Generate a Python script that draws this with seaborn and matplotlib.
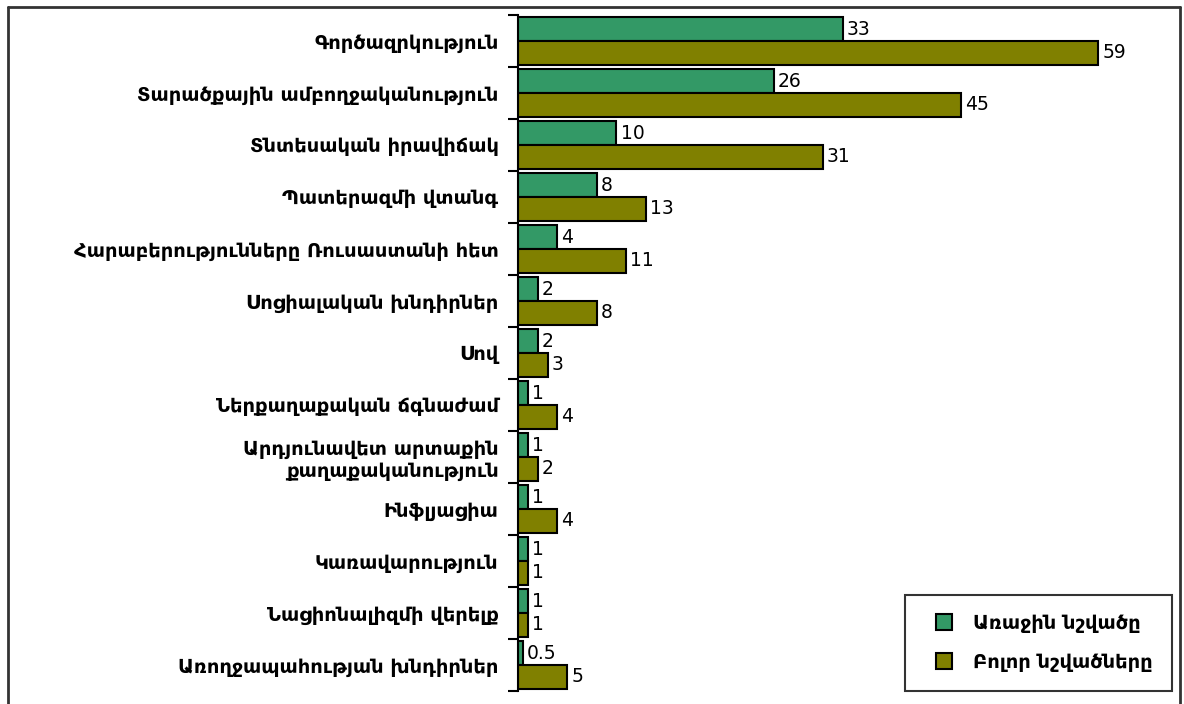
import matplotlib

matplotlib.use("Agg")
import matplotlib.pyplot as plt
import pandas as pd
import seaborn as sns
from matplotlib.lines import Line2D
from matplotlib.ticker import FixedLocator

# --- data ---
categories = [
    "Գործազրկություն",
    "Տարածքային ամբողջականություն",
    "Տնտեսական իրավիճակ",
    "Պատերազմի վտանգ",
    "Հարաբերությունները Ռուսաստանի հետ",
    "Սոցիալական խնդիրներ",
    "Սով",
    "Ներքաղաքական ճգնաժամ",
    "Արդյունավետ արտաքին\nքաղաքականություն",
    "Ինֆլյացիա",
    "Կառավարություն",
    "Նացիոնալիզմի վերելք",
    "Առողջապահության խնդիրներ",
]
first_mentioned = [33, 26, 10, 8, 4, 2, 2, 1, 1, 1, 1, 1, 0.5]
all_mentioned = [59, 45, 31, 13, 11, 8, 3, 4, 2, 4, 1, 1, 5]
series_names = ["Առաջին նշվածը", "Բոլոր նշվածները"]
palette = {series_names[0]: "#339966", series_names[1]: "#808000"}

df = pd.DataFrame({
    "category": categories * 2,
    "value": first_mentioned + all_mentioned,
    "series": [series_names[0]] * len(categories) + [series_names[1]] * len(categories),
})

sns.set_style("white")
plt.rcParams["font.family"] = ["DejaVu Sans"]
plt.rcParams["text.color"] = "black"
plt.rcParams["ytick.color"] = "black"
plt.rcParams["ytick.labelcolor"] = "black"

fig = plt.figure(figsize=(11.84, 7.04), dpi=100)
ax = fig.add_axes([518 / 1184, 1 - 691 / 704, (1172 - 518) / 1184, (691 - 15) / 704])

sns.barplot(data=df, y="category", x="value", hue="series", order=categories,
            hue_order=series_names, palette=palette, orient="h", width=0.92, gap=0,
            edgecolor="black", linewidth=1.5, saturation=1, ax=ax)

# value labels to the right of each bar
for cont in ax.containers:
    labels = [f"{v:g}" for v in cont.datavalues]
    ax.bar_label(cont, labels=labels, padding=3, fontsize=13.5, color="black")

ax.set_xlim(0, 66.5)
ax.set_ylim(len(categories) - 0.5, -0.5)
ax.set_xlabel("")
ax.set_ylabel("")
ax.set_xticks([])
for side in ("top", "right", "bottom"):
    ax.spines[side].set_visible(False)
ax.spines["left"].set_color("black")
ax.spines["left"].set_linewidth(1.5)

ax.tick_params(axis="y", which="major", left=False, length=0, pad=14, labelsize=14)
for lab in ax.get_yticklabels():
    lab.set_fontweight("bold")
    lab.set_horizontalalignment("right")
ax.yaxis.set_minor_locator(FixedLocator([i + 0.5 for i in range(-1, len(categories))]))
ax.tick_params(axis="y", which="minor", left=True, length=7, width=1.5,
               direction="out", color="black")

# legend box in the lower right
handles = [Line2D([0], [0], marker="s", linestyle="", markersize=11,
                  markerfacecolor=palette[n], markeredgecolor="black", markeredgewidth=1.5)
           for n in series_names]
leg = ax.legend(handles, series_names, loc="lower right", bbox_to_anchor=(1.0, 0.0),
                frameon=True, fancybox=False, borderpad=1.0, labelspacing=1.0,
                handletextpad=0.5, borderaxespad=0.0,
                prop={"weight": "bold", "size": 14})
leg.get_frame().set_edgecolor("black")
leg.get_frame().set_linewidth(1.5)

# outer frame (top, left, right)
fig.add_artist(Line2D([8 / 1184, 8 / 1184], [0, 1 - 7 / 704], transform=fig.transFigure,
                      color="#333333", lw=2))
fig.add_artist(Line2D([8 / 1184, 1180 / 1184], [1 - 7 / 704, 1 - 7 / 704],
                      transform=fig.transFigure, color="#333333", lw=2))
fig.add_artist(Line2D([1180 / 1184, 1180 / 1184], [0, 1 - 7 / 704], transform=fig.transFigure,
                      color="#333333", lw=2))

fig.savefig("out.png", dpi=100, facecolor="white")
